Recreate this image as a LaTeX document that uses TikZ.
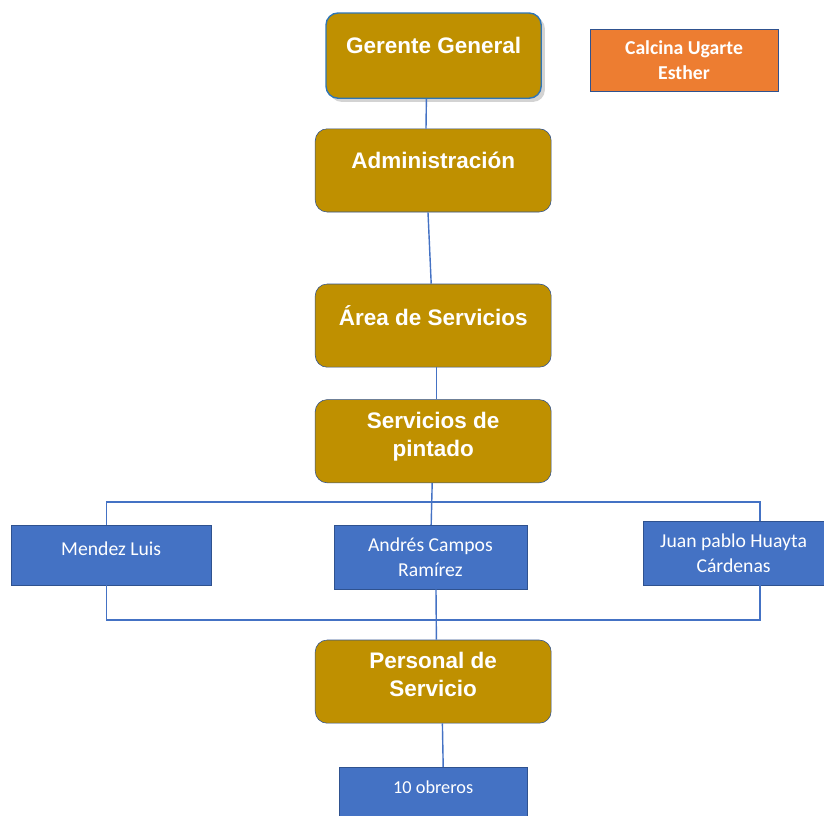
\documentclass[tikz,border=0pt]{standalone}
\usepackage{fontspec}
\setmainfont{Liberation Sans}
\newfontfamily\calibri{Carlito}
\usetikzlibrary{shadows}
\definecolor{oro}{HTML}{BF9000}
\definecolor{azul}{HTML}{4472C4}
\definecolor{azulosc}{HTML}{2F528F}
\definecolor{naranja}{HTML}{ED7D31}
\definecolor{borde}{HTML}{2E75B6}

\begin{document}
\begin{tikzpicture}[scale=1,
  cargo/.style={draw=azulosc,fill=oro,rounded corners=0.3cm,minimum width=5.9cm,minimum height=2.08cm,
    align=center,text=white,text depth=0.5cm,font=\fontsize{16}{20}\selectfont\bfseries},
  persona/.style={draw=azulosc,fill=azul,minimum height=1.55cm,align=center,text=white,
    font=\calibri\fontsize{14}{18}\selectfont},
  linea/.style={azul,line width=1pt}]
\clip (0,0) rectangle (20.6,-20.4);

\node[cargo,draw=borde,line width=1pt,minimum width=5.38cm,minimum height=2.13cm,drop shadow={opacity=0.35}] (gerente) at (10.84,-1.39) {Gerente General};
\node[persona,fill=naranja,minimum width=4.7cm,font=\calibri\bfseries\fontsize{14}{18}\selectfont] (calcina) at (17.1,-1.5) {Calcina Ugarte\\Esther};
\node[cargo] (admin) at (10.83,-4.26) {Administración};
\node[cargo] (area) at (10.83,-8.14) {Área de Servicios};
\node[cargo,text depth=0.35cm] (pintado) at (10.83,-11.03) {Servicios de\\pintado};

\node[persona,minimum width=5cm,minimum height=1.5cm,text depth=0.35cm] (mendez) at (2.78,-13.88) {Mendez Luis};
\node[persona,minimum width=4.83cm,minimum height=1.6cm] (andres) at (10.76,-13.93) {Andrés Campos\\Ramírez};
\node[persona,minimum width=4.53cm,minimum height=1.6cm] (juan) at (18.34,-13.83) {Juan pablo Huayta\\Cárdenas};

\node[cargo,text depth=0.35cm] (personal) at (10.83,-17.04) {Personal de\\Servicio};
\node[persona,minimum width=4.7cm,minimum height=1.3cm,text depth=0.3cm,font=\calibri\fontsize{13}{16}\selectfont] (obreros) at (10.83,-19.83) {10 obreros};

\coordinate (sup) at (10,-12.55);
\coordinate (inf) at (10,-15.5);

\draw[linea] ([xshift=-0.18cm]gerente.south) -- ([xshift=-0.18cm]admin.north);
\draw[linea] ([xshift=-0.13cm]admin.south) -- ([xshift=-0.05cm]area.north);
\draw[linea] ([xshift=0.08cm]area.south) -- ([xshift=0.08cm]pintado.north);
\draw[linea] (pintado) -- (andres);
\draw[linea] ([xshift=-0.12cm]mendez.north) |- (sup) -| ([xshift=0.66cm]juan.north);
\draw[linea] ([xshift=-0.12cm]mendez.south) |- (inf) -| ([xshift=0.66cm]juan.south);
\draw[linea] ([xshift=0.14cm]andres.south) -- ([xshift=0.08cm]personal.north);
\draw[linea] ([xshift=0.23cm]personal.south) -- ([xshift=0.25cm]obreros.north);

\end{tikzpicture}
\end{document}
